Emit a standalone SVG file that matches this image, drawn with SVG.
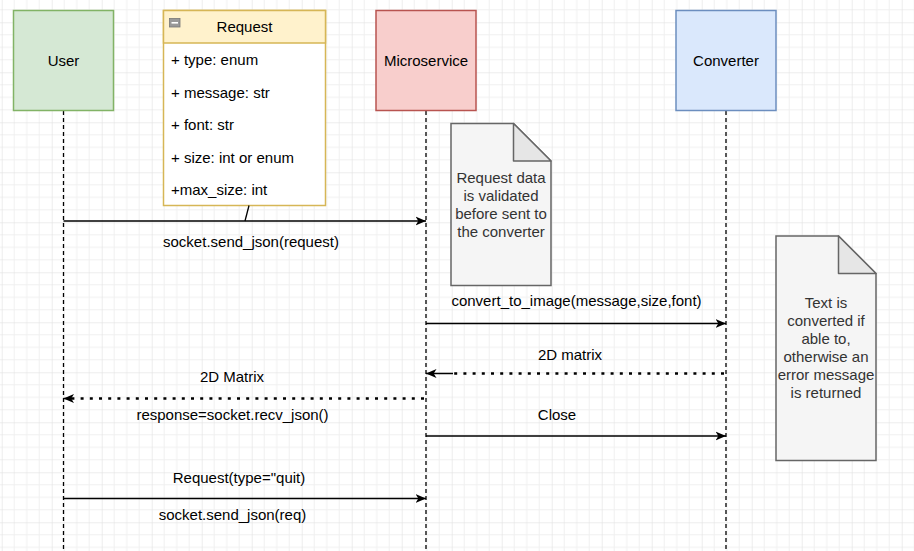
<svg xmlns="http://www.w3.org/2000/svg" width="914" height="551" viewBox="0 0 914 551">
<style>
text{font-family:"Liberation Sans",Arial,sans-serif;font-size:15px;fill:#000}
.c{text-anchor:middle}
.note text{fill:#333}
.life{stroke:#000;stroke-width:1.3;stroke-dasharray:4 3;fill:none}
.msg{stroke:#000;stroke-width:1.5;fill:none}
.dot{stroke:#000;stroke-width:2.6;stroke-dasharray:3 6.2;fill:none}
</style>
<defs>
<pattern id="grid" patternUnits="userSpaceOnUse" x="1.7" y="22.3" width="50" height="50">
<path d="M12.5 0V50M25 0V50M37.5 0V50M0 12.5H50M0 25H50M0 37.5H50" stroke="#f0f0f0" stroke-width="1" fill="none"/>
<path d="M0 0V50M0 0H50" stroke="#dcdcdc" stroke-width="1" fill="none"/>
</pattern>
<marker id="arr" markerUnits="userSpaceOnUse" viewBox="0 0 11 10" refX="10.5" refY="5" markerWidth="11" markerHeight="10" orient="auto">
<path d="M0,0.5 L10.5,5 L0,9.5 L2.8,5 Z" fill="#000"/>
</marker>
</defs>
<rect width="914" height="551" fill="#fff"/>
<rect width="914" height="551" fill="url(#grid)"/>

<g id="lifelines">
<line class="life" x1="63.5" y1="111" x2="63.5" y2="551"/>
<line class="life" x1="426" y1="111" x2="426" y2="551"/>
<line class="life" x1="726" y1="111" x2="726" y2="551"/>
</g>

<g id="user">
<rect x="13.5" y="10.5" width="100" height="100" fill="#d5e8d4" stroke="#82b366" stroke-width="1.5"/>
<text class="c" x="63.5" y="66">User</text>
</g>

<g id="request">
<rect x="163.5" y="10.5" width="162" height="195" fill="#fff" stroke="#d6b656" stroke-width="1.5"/>
<rect x="163.5" y="10.5" width="162" height="32.5" fill="#fff2cc" stroke="#d6b656" stroke-width="1.5"/>
<rect x="169.5" y="18.5" width="10.5" height="8.5" fill="#999" stroke="#777" stroke-width="0.8"/>
<rect x="171.5" y="22" width="6.5" height="1.6" fill="#fff"/>
<text class="c" x="244.5" y="32">Request</text>
<text x="171" y="65">+ type: enum</text>
<text x="171" y="97.5">+ message: str</text>
<text x="171" y="130">+ font: str</text>
<text x="171" y="162.5">+ size: int or enum</text>
<text x="171" y="195">+max_size: int</text>
</g>

<g id="microservice">
<rect x="376" y="10.5" width="100" height="100" fill="#f8cecc" stroke="#b85450" stroke-width="1.5"/>
<text class="c" x="426" y="66">Microservice</text>
</g>

<g id="converter">
<rect x="676" y="10.5" width="100" height="100" fill="#dae8fc" stroke="#6c8ebf" stroke-width="1.5"/>
<text class="c" x="726" y="66">Converter</text>
</g>

<g id="note-validate" class="note">
<path d="M451 123.5H513.5L551 161V285.5H451Z" fill="#f5f5f5" stroke="#666" stroke-width="1.5"/>
<path d="M513.5 123.5V161H551Z" fill="#e6e6e6" stroke="#666" stroke-width="1.5" stroke-linejoin="round"/>
<text class="c" x="501" y="183">Request data</text>
<text class="c" x="501" y="201">is validated</text>
<text class="c" x="501" y="219">before sent to</text>
<text class="c" x="501" y="237">the converter</text>
</g>

<g id="note-convert" class="note">
<path d="M776 236H838.5L876 273.5V460.5H776Z" fill="#f5f5f5" stroke="#666" stroke-width="1.5"/>
<path d="M838.5 236V273.5H876Z" fill="#e6e6e6" stroke="#666" stroke-width="1.5" stroke-linejoin="round"/>
<text class="c" x="826" y="308">Text is</text>
<text class="c" x="826" y="326">converted if</text>
<text class="c" x="826" y="344">able to,</text>
<text class="c" x="826" y="362">otherwise an</text>
<text class="c" x="826" y="380">error message</text>
<text class="c" x="826" y="398">is returned</text>
</g>

<g id="connectors">
<line class="msg" x1="63.5" y1="221" x2="426" y2="221" marker-end="url(#arr)"/>
<line stroke="#000" stroke-width="1.3" x1="249" y1="205.5" x2="245" y2="221"/>
<text class="c" x="251" y="247">socket.send_json(request)</text>

<line class="msg" x1="426" y1="323.5" x2="726" y2="323.5" marker-end="url(#arr)"/>
<text class="c" x="576.5" y="306">convert_to_image(message,size,font)</text>

<line class="dot" x1="724" y1="373.5" x2="452" y2="373.5"/>
<line class="msg" x1="453" y1="373.5" x2="426" y2="373.5" marker-end="url(#arr)"/>
<text class="c" x="570" y="360">2D matrix</text>

<line class="dot" x1="424" y1="398.5" x2="70" y2="398.5"/>
<line class="msg" x1="72" y1="398.5" x2="63.5" y2="398.5" marker-end="url(#arr)"/>
<text class="c" x="232" y="382">2D Matrix</text>
<text class="c" x="232.5" y="420">response=socket.recv_json()</text>

<line class="msg" x1="426" y1="436" x2="726" y2="436" marker-end="url(#arr)"/>
<text class="c" x="557" y="420">Close</text>

<line class="msg" x1="63.5" y1="498.5" x2="426" y2="498.5" marker-end="url(#arr)"/>
<text class="c" x="239" y="483">Request(type="quit)</text>
<text class="c" x="232.5" y="520">socket.send_json(req)</text>
</g>
</svg>
